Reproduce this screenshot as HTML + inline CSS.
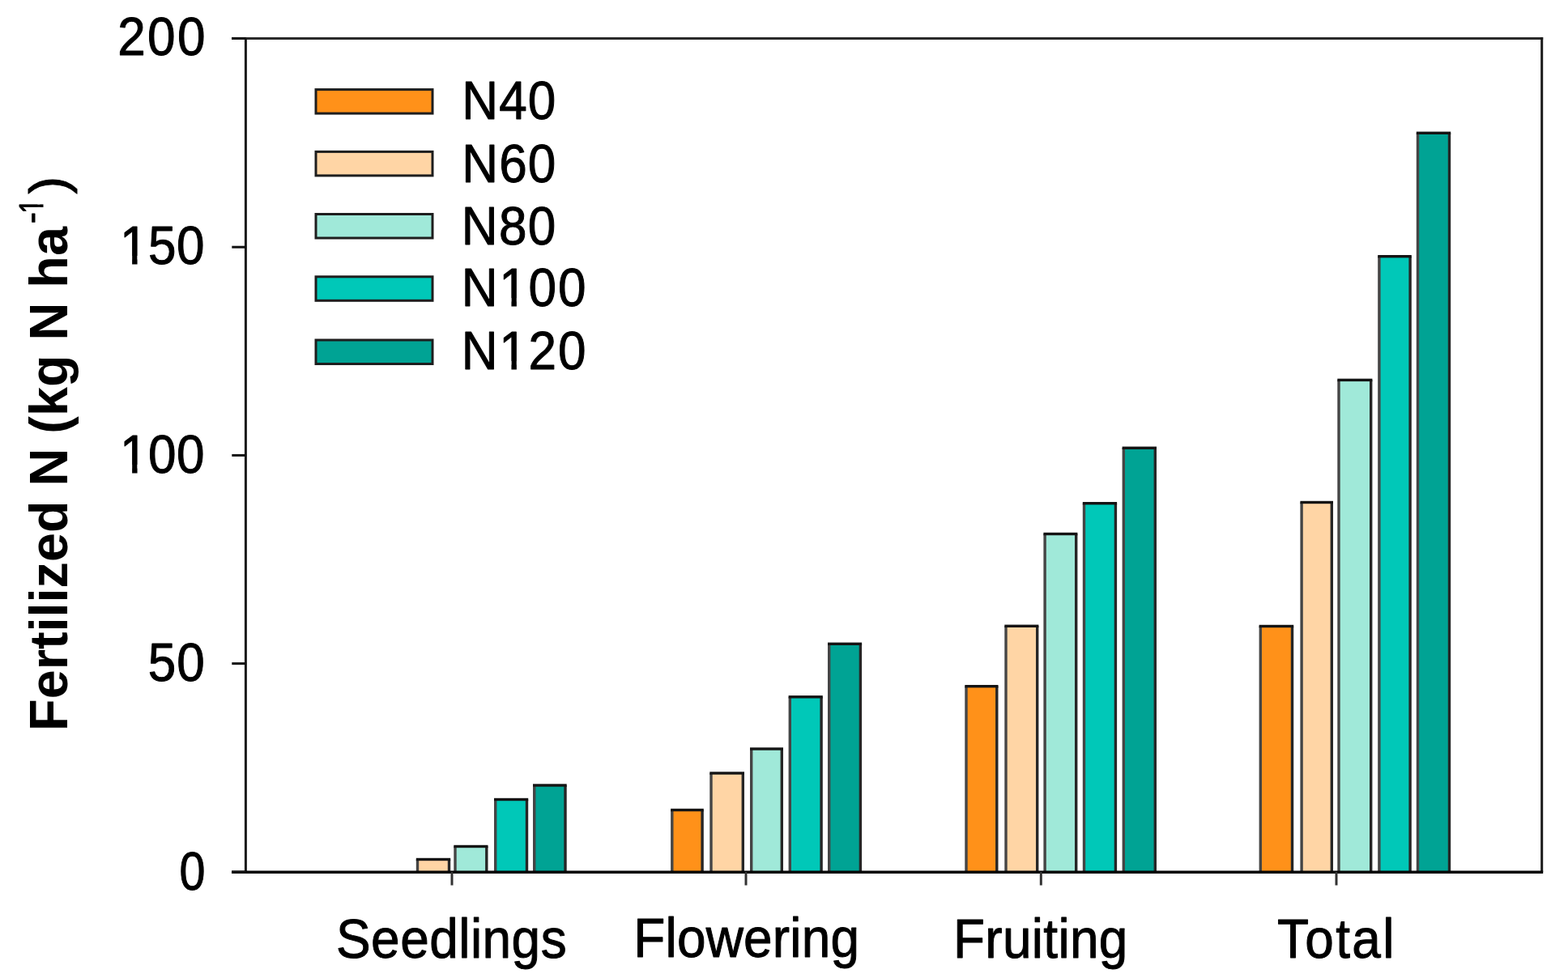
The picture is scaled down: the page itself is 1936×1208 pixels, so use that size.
<!DOCTYPE html>
<html><head><meta charset="utf-8"><title>Fertilized N chart</title>
<style>
html,body{margin:0;padding:0;background:#fff;}
body{width:1936px;height:1208px;overflow:hidden;}
svg{display:block;filter:blur(0.6px);}
text{font-family:"Liberation Sans",Arial,sans-serif;fill:#000;stroke:#000;stroke-width:1.0px;stroke-linejoin:round;}
text.b{stroke-width:0.0px;}
</style></head><body>
<svg width="1936" height="1208" viewBox="0 0 1936 1208">
<rect x="0" y="0" width="1936" height="1208" fill="#fff"/>

<rect x="515.50" y="1061.50" width="39.00" height="15.50" fill="#FFD5A5"/>
<rect x="513.80" y="1061.50" width="3.4" height="15.50" fill="#454545"/>
<rect x="552.80" y="1061.50" width="3.4" height="15.50" fill="#262626"/>
<rect x="513.80" y="1059.80" width="42.40" height="3.4" fill="#141414"/>
<rect x="562.00" y="1045.50" width="38.80" height="31.50" fill="#A0E9D9"/>
<rect x="560.30" y="1045.50" width="3.4" height="31.50" fill="#454545"/>
<rect x="599.10" y="1045.50" width="3.4" height="31.50" fill="#262626"/>
<rect x="560.30" y="1043.80" width="42.20" height="3.4" fill="#141414"/>
<rect x="611.70" y="987.50" width="38.80" height="89.50" fill="#00C8B8"/>
<rect x="610.00" y="987.50" width="3.4" height="89.50" fill="#454545"/>
<rect x="648.80" y="987.50" width="3.4" height="89.50" fill="#262626"/>
<rect x="610.00" y="985.80" width="42.20" height="3.4" fill="#141414"/>
<rect x="659.70" y="970.00" width="38.30" height="107.00" fill="#00A394"/>
<rect x="658.00" y="970.00" width="3.4" height="107.00" fill="#454545"/>
<rect x="696.30" y="970.00" width="3.4" height="107.00" fill="#262626"/>
<rect x="658.00" y="968.30" width="41.70" height="3.4" fill="#141414"/>
<rect x="829.80" y="1000.50" width="37.30" height="76.50" fill="#FF9119"/>
<rect x="828.10" y="1000.50" width="3.4" height="76.50" fill="#454545"/>
<rect x="865.40" y="1000.50" width="3.4" height="76.50" fill="#262626"/>
<rect x="828.10" y="998.80" width="40.70" height="3.4" fill="#141414"/>
<rect x="878.00" y="955.00" width="39.30" height="122.00" fill="#FFD5A5"/>
<rect x="876.30" y="955.00" width="3.4" height="122.00" fill="#454545"/>
<rect x="915.60" y="955.00" width="3.4" height="122.00" fill="#262626"/>
<rect x="876.30" y="953.30" width="42.70" height="3.4" fill="#141414"/>
<rect x="927.70" y="925.00" width="37.60" height="152.00" fill="#A0E9D9"/>
<rect x="926.00" y="925.00" width="3.4" height="152.00" fill="#454545"/>
<rect x="963.60" y="925.00" width="3.4" height="152.00" fill="#262626"/>
<rect x="926.00" y="923.30" width="41.00" height="3.4" fill="#141414"/>
<rect x="975.30" y="860.80" width="38.80" height="216.20" fill="#00C8B8"/>
<rect x="973.60" y="860.80" width="3.4" height="216.20" fill="#454545"/>
<rect x="1012.40" y="860.80" width="3.4" height="216.20" fill="#262626"/>
<rect x="973.60" y="859.10" width="42.20" height="3.4" fill="#141414"/>
<rect x="1023.70" y="795.30" width="38.70" height="281.70" fill="#00A394"/>
<rect x="1022.00" y="795.30" width="3.4" height="281.70" fill="#454545"/>
<rect x="1060.70" y="795.30" width="3.4" height="281.70" fill="#262626"/>
<rect x="1022.00" y="793.60" width="42.10" height="3.4" fill="#141414"/>
<rect x="1193.00" y="847.70" width="37.80" height="229.30" fill="#FF9119"/>
<rect x="1191.30" y="847.70" width="3.4" height="229.30" fill="#454545"/>
<rect x="1229.10" y="847.70" width="3.4" height="229.30" fill="#262626"/>
<rect x="1191.30" y="846.00" width="41.20" height="3.4" fill="#141414"/>
<rect x="1242.00" y="773.30" width="38.70" height="303.70" fill="#FFD5A5"/>
<rect x="1240.30" y="773.30" width="3.4" height="303.70" fill="#454545"/>
<rect x="1279.00" y="773.30" width="3.4" height="303.70" fill="#262626"/>
<rect x="1240.30" y="771.60" width="42.10" height="3.4" fill="#141414"/>
<rect x="1290.10" y="659.50" width="38.60" height="417.50" fill="#A0E9D9"/>
<rect x="1288.40" y="659.50" width="3.4" height="417.50" fill="#454545"/>
<rect x="1327.00" y="659.50" width="3.4" height="417.50" fill="#262626"/>
<rect x="1288.40" y="657.80" width="42.00" height="3.4" fill="#141414"/>
<rect x="1338.50" y="621.70" width="38.90" height="455.30" fill="#00C8B8"/>
<rect x="1336.80" y="621.70" width="3.4" height="455.30" fill="#454545"/>
<rect x="1375.70" y="621.70" width="3.4" height="455.30" fill="#262626"/>
<rect x="1336.80" y="620.00" width="42.30" height="3.4" fill="#141414"/>
<rect x="1387.30" y="553.30" width="39.00" height="523.70" fill="#00A394"/>
<rect x="1385.60" y="553.30" width="3.4" height="523.70" fill="#454545"/>
<rect x="1424.60" y="553.30" width="3.4" height="523.70" fill="#262626"/>
<rect x="1385.60" y="551.60" width="42.40" height="3.4" fill="#141414"/>
<rect x="1556.30" y="773.50" width="39.20" height="303.50" fill="#FF9119"/>
<rect x="1554.60" y="773.50" width="3.4" height="303.50" fill="#454545"/>
<rect x="1593.80" y="773.50" width="3.4" height="303.50" fill="#262626"/>
<rect x="1554.60" y="771.80" width="42.60" height="3.4" fill="#141414"/>
<rect x="1607.10" y="620.50" width="37.20" height="456.50" fill="#FFD5A5"/>
<rect x="1605.40" y="620.50" width="3.4" height="456.50" fill="#454545"/>
<rect x="1642.60" y="620.50" width="3.4" height="456.50" fill="#262626"/>
<rect x="1605.40" y="618.80" width="40.60" height="3.4" fill="#141414"/>
<rect x="1653.00" y="469.40" width="39.70" height="607.60" fill="#A0E9D9"/>
<rect x="1651.30" y="469.40" width="3.4" height="607.60" fill="#454545"/>
<rect x="1691.00" y="469.40" width="3.4" height="607.60" fill="#262626"/>
<rect x="1651.30" y="467.70" width="43.10" height="3.4" fill="#141414"/>
<rect x="1702.90" y="316.70" width="38.20" height="760.30" fill="#00C8B8"/>
<rect x="1701.20" y="316.70" width="3.4" height="760.30" fill="#454545"/>
<rect x="1739.40" y="316.70" width="3.4" height="760.30" fill="#262626"/>
<rect x="1701.20" y="315.00" width="41.60" height="3.4" fill="#141414"/>
<rect x="1750.50" y="164.30" width="39.00" height="912.70" fill="#00A394"/>
<rect x="1748.80" y="164.30" width="3.4" height="912.70" fill="#454545"/>
<rect x="1787.80" y="164.30" width="3.4" height="912.70" fill="#262626"/>
<rect x="1748.80" y="162.60" width="42.40" height="3.4" fill="#141414"/>
<line x1="286" y1="47.4" x2="1905.2" y2="47.4" stroke="#2a2a2a" stroke-width="3.0"/>
<line x1="1903.7" y1="45.9" x2="1903.7" y2="1077.0" stroke="#1a1a1a" stroke-width="3.0"/>
<line x1="303.4" y1="47.4" x2="303.4" y2="1077.0" stroke="#1a1a1a" stroke-width="3.0"/>
<line x1="286" y1="1077.3" x2="1905.2" y2="1077.3" stroke="#000" stroke-width="3.5"/>
<line x1="286.3" y1="1077.0" x2="303.6" y2="1077.0" stroke="#111" stroke-width="3"/>
<line x1="286.3" y1="819.6" x2="303.6" y2="819.6" stroke="#111" stroke-width="3"/>
<line x1="286.3" y1="562.4" x2="303.6" y2="562.4" stroke="#111" stroke-width="3"/>
<line x1="286.3" y1="305.2" x2="303.6" y2="305.2" stroke="#111" stroke-width="3"/>
<line x1="286.3" y1="47.4" x2="303.6" y2="47.4" stroke="#111" stroke-width="3"/>
<line x1="558.0" y1="1077.0" x2="558.0" y2="1093.5" stroke="#333" stroke-width="3"/>
<line x1="921.0" y1="1077.0" x2="921.0" y2="1093.5" stroke="#333" stroke-width="3"/>
<line x1="1285.3" y1="1077.0" x2="1285.3" y2="1093.5" stroke="#333" stroke-width="3"/>
<line x1="1650.0" y1="1077.0" x2="1650.0" y2="1093.5" stroke="#333" stroke-width="3"/>
<rect x="390.0" y="110.60" width="144.0" height="29.5" fill="#FF9119" stroke="#1e1e1e" stroke-width="3.0"/>
<rect x="390.0" y="187.40" width="144.0" height="29.5" fill="#FFD5A5" stroke="#1e1e1e" stroke-width="3.0"/>
<rect x="390.0" y="264.50" width="144.0" height="29.5" fill="#A0E9D9" stroke="#1e1e1e" stroke-width="3.0"/>
<rect x="390.0" y="341.80" width="144.0" height="29.5" fill="#00C8B8" stroke="#1e1e1e" stroke-width="3.0"/>
<rect x="390.0" y="420.00" width="144.0" height="29.5" fill="#00A394" stroke="#1e1e1e" stroke-width="3.0"/>
<text id="t200" transform="translate(145.30,68.10) scale(0.94,1)" font-size="66" textLength="115.00" lengthAdjust="spacing">200</text>
<text id="t150" transform="translate(148.00,325.60) scale(0.94,1)" font-size="66" textLength="111.28" lengthAdjust="spacing">150</text>
<g transform="translate(148.00,325.60) scale(0.94,1)"><rect x="1.93" y="-9.67" width="14.16" height="11.67" fill="#fff"/><rect x="22.93" y="-9.67" width="13.02" height="11.67" fill="#fff"/></g>
<text id="t100" transform="translate(148.00,583.50) scale(0.94,1)" font-size="66" textLength="111.28" lengthAdjust="spacing">100</text>
<g transform="translate(148.00,583.50) scale(0.94,1)"><rect x="1.93" y="-9.67" width="14.16" height="11.67" fill="#fff"/><rect x="22.93" y="-9.67" width="13.02" height="11.67" fill="#fff"/></g>
<text id="t50" transform="translate(182.70,840.50) scale(0.94,1)" font-size="66" textLength="74.47" lengthAdjust="spacing">50</text>
<text id="t0" transform="translate(221.50,1098.70) scale(0.87,1)" font-size="66" textLength="19.43" lengthAdjust="spacing">0</text>
<text id="tSeedlings" transform="translate(415.00,1182.60) scale(0.94,1)" font-size="68" textLength="302.77" lengthAdjust="spacing">Seedlings</text>
<text id="tFlowering" transform="translate(782.30,1182.30) scale(0.94,1)" font-size="68" textLength="296.49" lengthAdjust="spacing">Flowering</text>
<text id="tFruiting" transform="translate(1177.00,1182.50) scale(0.94,1)" font-size="68" textLength="229.15" lengthAdjust="spacing">Fruiting</text>
<text id="tTotal" transform="translate(1576.90,1183.00) scale(0.94,1)" font-size="68" textLength="153.83" lengthAdjust="spacing">Total</text>
<text id="tN40" transform="translate(570.20,146.90) scale(0.94,1)" font-size="66" textLength="123.51" lengthAdjust="spacing">N40</text>
<text id="tN60" transform="translate(570.20,224.60) scale(0.94,1)" font-size="66" textLength="123.51" lengthAdjust="spacing">N60</text>
<text id="tN80" transform="translate(569.70,301.70) scale(0.94,1)" font-size="66" textLength="124.04" lengthAdjust="spacing">N80</text>
<text id="tN100" transform="translate(569.70,377.80) scale(0.94,1)" font-size="66" textLength="163.51" lengthAdjust="spacing">N100</text>
<g transform="translate(569.70,377.80) scale(0.94,1)"><rect x="51.51" y="-9.67" width="14.16" height="11.67" fill="#fff"/><rect x="72.51" y="-9.67" width="13.02" height="11.67" fill="#fff"/></g>
<text id="tN120" transform="translate(569.70,455.60) scale(0.94,1)" font-size="66" textLength="163.51" lengthAdjust="spacing">N120</text>
<g transform="translate(569.70,455.60) scale(0.94,1)"><rect x="51.51" y="-9.67" width="14.16" height="11.67" fill="#fff"/><rect x="72.51" y="-9.67" width="13.02" height="11.67" fill="#fff"/></g>
<text id="title" transform="translate(83.00,902.90) rotate(-90) scale(0.982,1)" font-size="66" font-weight="bold" class="b">Fertilized N (kg N ha</text>
<text transform="translate(52.50,276.00) rotate(-90) scale(1.0,1)" font-size="42">-</text>
<text transform="translate(52.50,263.50) rotate(-90) scale(0.75,1)" font-size="42">1</text>
<g transform="translate(52.50,263.50) rotate(-90) scale(0.75,1)"><rect x="1.23" y="-6.15" width="8.83" height="8.15" fill="#fff"/><rect x="14.77" y="-6.15" width="8.29" height="8.15" fill="#fff"/></g>
<text transform="translate(82.00,239.50) rotate(-90)" font-size="65">)</text>
</svg>
</body></html>
